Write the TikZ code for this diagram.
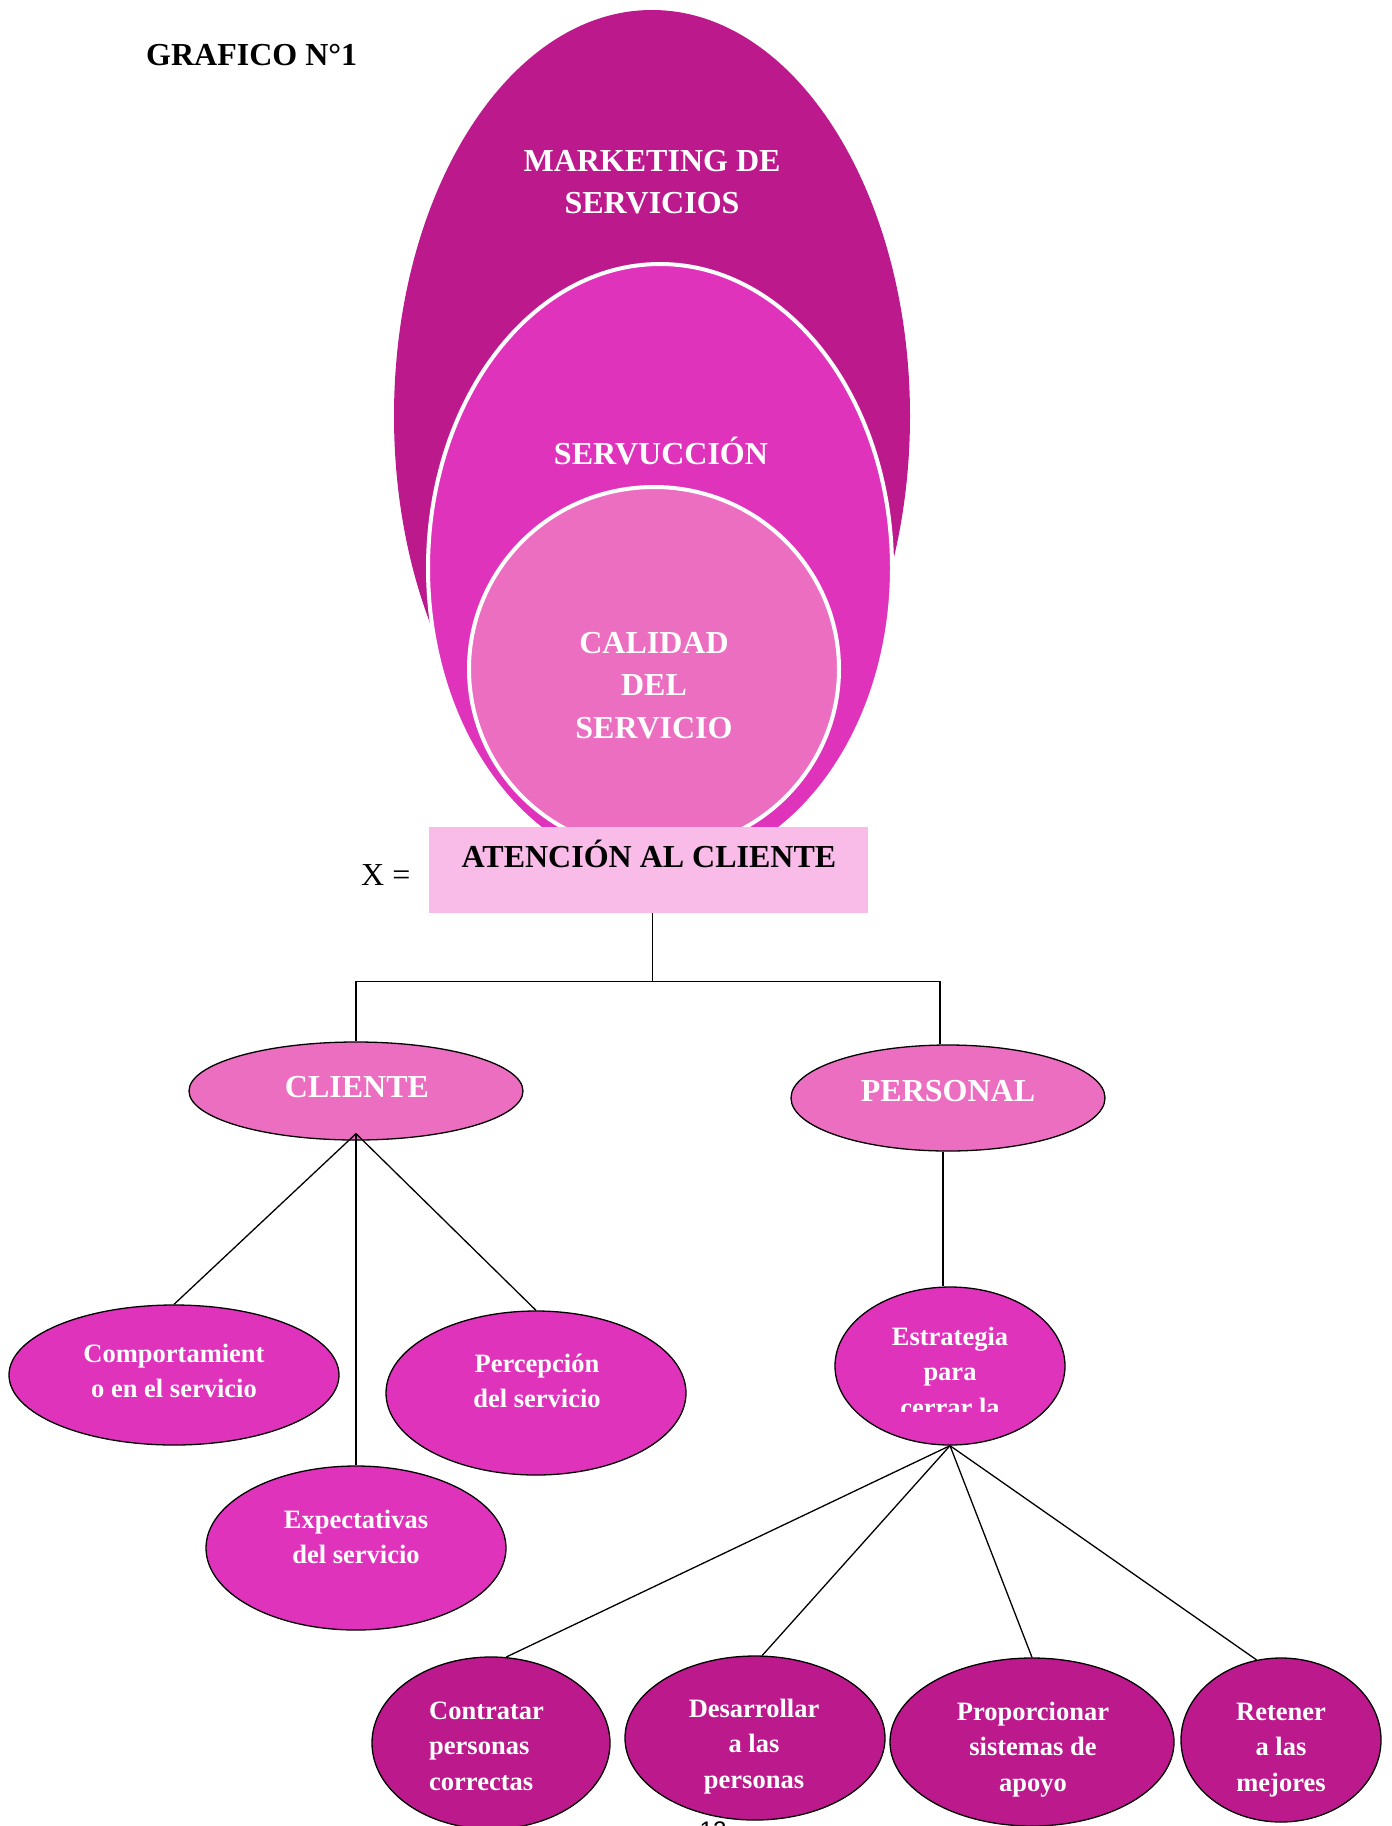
\documentclass[tikz,border=0pt]{standalone}
\usepackage{fontspec}
\setmainfont{Liberation Serif}
\newfontfamily\pagenumfont{Liberation Sans}
\usetikzlibrary{shapes.geometric}
\definecolor{magDark}{HTML}{BC1A8C}
\definecolor{magMid}{HTML}{E033BC}
\definecolor{magLight}{HTML}{EC6EC0}
\definecolor{boxPink}{HTML}{F9BBE8}
% stacked lines, baseline at the first line
\newcommand{\stk}[1]{\begin{tabular}[t]{@{}c@{}}#1\end{tabular}}
\newcommand{\stkl}[1]{\begin{tabular}[t]{@{}l@{}}#1\end{tabular}}
\begin{document}
\begin{tikzpicture}[x=1pt,y=-1pt,
  captxt/.style={font=\bfseries\fontsize{32}{42.5}\selectfont, text=white, anchor=base, inner sep=0},
  smalltxt/.style={font=\bfseries\fontsize{26.5}{35.5}\selectfont, text=white, anchor=base, inner sep=0},
  oval/.style={ellipse, draw=black, line width=1.3pt, inner sep=0},
  ring/.style={ellipse, draw=white, line width=4pt, inner sep=0},
  conn/.style={draw=black, line width=1.3pt}]
\useasboundingbox (0,0) rectangle (1392,1826);
\fill[white] (0,0) rectangle (1392,1826);

% title
\node[anchor=base west, font=\bfseries\fontsize{32}{38}\selectfont, inner sep=0] (title) at (146,65) {GRAFICO N°1};

% nested ovals
\node[ellipse, fill=magDark, minimum width=516, minimum height=812, inner sep=0] (mkt) at (652,416) {};
\node[ring, fill=magMid, minimum width=464, minimum height=608] (serv) at (660,568) {};
\node[ring, fill=magLight, minimum width=370, minimum height=364] (cal) at (654,669) {};
\node[captxt] (tmkt) at (652,171) {\stk{MARKETING DE\\SERVICIOS}};
\node[captxt] (tserv) at (661,464) {SERVUCCIÓN};
\node[captxt] (tcal) at (654,653) {\stk{CALIDAD\\DEL\\SERVICIO}};

% central box
\node[fill=boxPink, minimum width=439, minimum height=86, inner sep=0] (aten) at (648.5,870) {};
\node[captxt, text=black] (taten) at (649,867) {ATENCIÓN AL CLIENTE};
\node[anchor=base west, font=\fontsize{32}{38}\selectfont, inner sep=0] (xeq) at (361,885) {X =};

% second level
\node[oval, fill=magLight, minimum width=334, minimum height=98] (cli) at (356,1091) {};
\node[captxt] (tcli) at (357,1097) {CLIENTE};
\node[oval, fill=magLight, minimum width=314, minimum height=106] (per) at (948,1098) {};
\node[captxt] (tper) at (948,1101) {PERSONAL};

% client branch
\node[oval, fill=magMid, minimum width=330, minimum height=140] (cmp) at (174,1375) {};
\node[smalltxt] (tcmp) at (174,1362) {\stk{Comportamient\\o en el servicio}};
\node[oval, fill=magMid, minimum width=300, minimum height=164] (perc) at (536,1393) {};
\node[smalltxt] (tperc) at (537,1372) {\stk{Percepción\\del servicio}};
\node[oval, fill=magMid, minimum width=300, minimum height=164] (exp) at (356,1548) {};
\node[smalltxt] (texp) at (356,1528) {\stk{Expectativas\\del servicio}};

% staff branch
\node[oval, fill=magMid, minimum width=230, minimum height=158] (est) at (950,1366) {};
\begin{scope}
  \clip (835,1290) rectangle (1065,1411);
  \node[smalltxt] (test) at (950,1345) {\stk{Estrategia\\para\\cerrar la}};
\end{scope}

\node[oval, fill=magDark, minimum width=238, minimum height=172] (con) at (491,1743) {};
\node[smalltxt, anchor=base west] (tcon) at (429,1719) {\stkl{Contratar\\personas\\correctas}};
\node[oval, fill=magDark, minimum width=260, minimum height=164] (des) at (755,1738) {};
\node[smalltxt] (tdes) at (754,1717) {\stk{Desarrollar\\a las\\personas}};
\node[oval, fill=magDark, minimum width=284, minimum height=168] (pro) at (1032,1742) {};
\node[smalltxt] (tpro) at (1033,1720) {\stk{Proporcionar\\sistemas de\\apoyo}};
\node[oval, fill=magDark, minimum width=200, minimum height=164] (ret) at (1281,1740) {};
\node[smalltxt] (tret) at (1281,1720) {\stk{Retener\\a las\\mejores}};

% connectors
\draw[conn] ([xshift=4pt]aten.south) -- ++(0,68) coordinate (hub);
\draw[conn] (cli.north) |- (hub) -| ([xshift=-8pt]per.north);
\coordinate (cj) at ([yshift=7pt]cli.south);
\draw[conn] (cj) -- (cmp.north);
\draw[conn] (cj) -- (exp.north);
\draw[conn] (cj) -- (perc.north);
\draw[conn] ([xshift=-5pt]per.south) -- ([xshift=-5pt]per.south |- est.north);
\draw[conn] (est.south) -- (con.80);
\draw[conn] (est.south) -- (des.85);
\draw[conn] (est.south) -- (pro.north);
\draw[conn] (est.south) -- (ret.107);

% page number at the lower edge
\begin{scope}
  \clip (0,0) rectangle (1392,1826);
  \node[font=\pagenumfont\fontsize{24}{28}\selectfont, anchor=base, inner sep=0] (pgnum) at (713,1838) {12};
\end{scope}
\end{tikzpicture}
\end{document}
